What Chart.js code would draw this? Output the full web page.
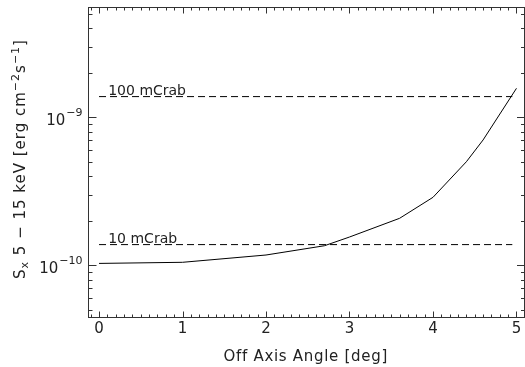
<!DOCTYPE html>
<html><head><meta charset="utf-8">
<script src="https://cdn.jsdelivr.net/npm/chart.js@4/dist/chart.umd.min.js"></script>
<style>html,body{margin:0;padding:0;background:#fff}#wrap{width:525px;height:367px}</style>
</head><body><div id="wrap"><canvas id="c" width="525" height="367"></canvas></div>
<script>
// ---- data ----
const offAxisAngle = [0, 1, 2, 2.7, 3, 3.6, 4, 4.4, 4.6, 5];
const fluxSensitivity = [1.03e-10, 1.048e-10, 1.174e-10, 1.356e-10, 1.553e-10, 2.078e-10, 2.88e-10, 5.01e-10, 7.03e-10, 1.57e-9];
const crabLevels = [1.38e-9, 1.38e-10];
const crabLabels = ['100 mCrab', '10 mCrab'];
const crabSpan = [0, 4.95];
const xTickValues = [0, 1, 2, 3, 4, 5];
const yTickValues = [1e-10, 1e-9];
const yTickExponents = ['\u221210', '\u22129'];
const xTitle = 'Off Axis Angle [deg]';
// y title as [text, kind] pieces: n = normal, sub = subscript, sup = superscript
const yTitlePieces = [['S', 'n'], ['x', 'sub'], [' 5 \u2212 15 keV [erg cm', 'n'], ['\u22122', 'sup'], ['s', 'n'], ['\u22121', 'sup'], [']', 'n']];

const FONT = 'DejaVu Sans';
const TXT = '#222';

function drawPieces(ctx, pieces, x, y) {
  const big = '15px ' + FONT, small = '11px ' + FONT;
  let w = 0;
  pieces.forEach(([t, k]) => { ctx.font = k === 'n' ? big : small; w += ctx.measureText(t).width; });
  let cx = x - w / 2;
  pieces.forEach(([t, k]) => {
    ctx.font = k === 'n' ? big : small;
    const dy = k === 'sup' ? -6 : (k === 'sub' ? 3 : 0);
    ctx.fillText(t, cx, y + dy);
    cx += ctx.measureText(t).width;
  });
}

const frame = {
  id: 'frame',
  afterDraw(chart) {
    const { ctx, chartArea: a, scales: { x, y } } = chart;
    ctx.save();
    ctx.strokeStyle = '#333';
    ctx.lineWidth = 1;
    ctx.strokeRect(a.left, a.top, a.right - 0.5 - a.left, a.bottom - a.top);
    ctx.beginPath();
    for (let k = -1; k <= 51; k++) {
      const v = k / 10;
      if (v < x.min || v > x.max) continue;
      const px = Math.round(x.getPixelForValue(v)) + 0.5;
      const len = (k % 10 === 0) ? 6 : 3;
      ctx.moveTo(px, a.bottom); ctx.lineTo(px, a.bottom - len);
      ctx.moveTo(px, a.top); ctx.lineTo(px, a.top + len);
    }
    for (let e = -11; e <= -9; e++) {
      for (let m = 1; m <= 9; m++) {
        const v = m * Math.pow(10, e);
        if (v < y.min || v > y.max) continue;
        const py = Math.round(y.getPixelForValue(v)) + 0.5;
        const len = (m === 1) ? 8 : 4;
        ctx.moveTo(a.left, py); ctx.lineTo(a.left + len, py);
        ctx.moveTo(a.right, py); ctx.lineTo(a.right - len, py);
      }
    }
    ctx.stroke();
    ctx.fillStyle = TXT;
    ctx.textBaseline = 'alphabetic';
    // mCrab labels
    ctx.font = '14px ' + FONT;
    ctx.textAlign = 'left';
    crabLevels.forEach((lvl, i) => {
      ctx.fillText(crabLabels[i], x.getPixelForValue(0.11), y.getPixelForValue(lvl) - 2);
    });
    // y tick labels: 10 with superscript exponent
    yTickValues.forEach((v, i) => {
      const py = y.getPixelForValue(v);
      ctx.font = '11px ' + FONT;
      const ew = ctx.measureText(yTickExponents[i]).width;
      ctx.textAlign = 'right';
      ctx.fillText(yTickExponents[i], a.left - 6, py - 1);
      ctx.font = '15px ' + FONT;
      ctx.fillText('10', a.left - 6 - ew - 1, py + 8);
    });
    // x title
    ctx.save();
    ctx.letterSpacing = '0.7px';
    ctx.font = '15px ' + FONT;
    ctx.textAlign = 'center';
    ctx.fillText(xTitle, (x.getPixelForValue(0) + x.getPixelForValue(5)) / 2 - 2, 361);
    ctx.restore();
    // rotated y title
    ctx.save();
    ctx.letterSpacing = '1px';
    ctx.translate(25, 159);
    ctx.rotate(-Math.PI / 2);
    ctx.textAlign = 'left';
    drawPieces(ctx, yTitlePieces, 0, 0);
    ctx.restore();
    ctx.restore();
  }
};

const datasets = [{
  data: offAxisAngle.map((a, i) => ({ x: a, y: fluxSensitivity[i] })),
  borderColor: '#000', borderWidth: 1, pointRadius: 0, tension: 0, fill: false
}];
crabLevels.forEach(lvl => datasets.push({
  data: crabSpan.map(a => ({ x: a, y: lvl })),
  borderColor: '#000', borderWidth: 1, borderDash: [7, 4], pointRadius: 0, fill: false
}));

new Chart(document.getElementById('c'), {
  type: 'line',
  data: { datasets },
  options: {
    responsive: false, animation: false, devicePixelRatio: 1,
    layout: { padding: { top: 7.5, right: 0, bottom: 0, left: 0 } },
    plugins: { legend: { display: false }, tooltip: { enabled: false } },
    scales: {
      x: {
        type: 'linear', min: -0.126, max: 5.102,
        afterBuildTicks: s => { s.ticks = xTickValues.map(v => ({ value: v })); },
        afterFit: s => { s.height = 49.5; s.paddingLeft = 0; s.paddingRight = 0; },
        grid: { display: false, drawTicks: false }, border: { display: false },
        ticks: { font: { family: FONT, size: 15 }, color: TXT, padding: 3, maxRotation: 0, autoSkip: false, callback: v => String(v) },
        title: { display: false }
      },
      y: {
        type: 'logarithmic', min: 4.44e-11, max: 5.52e-9,
        afterBuildTicks: s => { s.ticks = yTickValues.map(v => ({ value: v })); },
        afterFit: s => { s.width = 88.5; s.paddingTop = 0; s.paddingBottom = 0; },
        grid: { display: false, drawTicks: false }, border: { display: false },
        ticks: { display: false }
      }
    }
  },
  plugins: [frame]
});
</script></body></html>
